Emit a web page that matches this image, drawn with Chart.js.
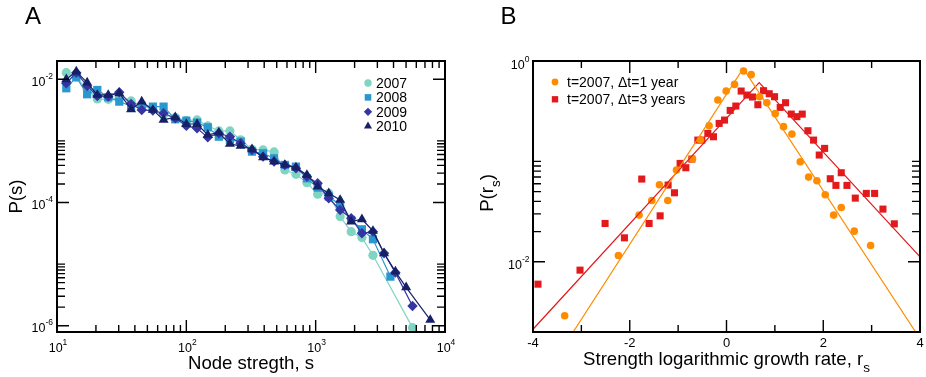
<!DOCTYPE html>
<html>
<head>
<meta charset="utf-8">
<title>Node strength distribution and growth rate</title>
<script src="https://cdn.jsdelivr.net/npm/chart.js@4.4.1/dist/chart.umd.min.js"></script>
<style>
  html, body { margin: 0; padding: 0; background: #fff; }
  #wrap { position: relative; width: 926px; height: 377px; overflow: hidden; }
  #wrap canvas { position: absolute; top: 0; }
</style>
</head>
<body>
<div id="wrap">
  <canvas id="panelA" width="463" height="377" style="left:0"></canvas>
  <canvas id="panelB" width="463" height="377" style="left:463px"></canvas>
</div>
<script>
// ---- panel A: strength distribution, one series per year ----
const strengthBins = [11.8, 14.1, 17.1, 20.5, 24.9, 30.3, 37.4, 45.2, 55.1, 66.7, 82.1, 100, 121, 146.5, 178.4,
  217.2, 262.8, 322, 392, 477, 578, 704, 856, 1036, 1262, 1546, 1882, 2278, 2773, 3378, 3782, 4136, 5006, 5607, 7691];
const p2007 = [0.0128, 0.0108, 0.00688, 0.00479, 0.00473, 0.00491, 0.00445, 0.00369, 0.00326, 0.00264, 0.00242,
  0.00213, 0.00219, 0.00175, 0.00145, 0.00145, 0.00104, 0.000731, 0.000712, 0.000661, 0.000337, 0.000287, 0.000210,
  0.000136, 0.000141, 0.0000590, 0.0000336, 0.0000269, 0.0000139, null, null, null, null, 0.00000093, null];
const p2008 = [0.00714, 0.0108, 0.00571, 0.00671, 0.00510, 0.00434, 0.00369, 0.00369, 0.00360, 0.00360, 0.00224,
  0.00213, 0.00198, 0.00166, 0.00117, 0.00104, 0.000973, 0.000669, 0.000629, 0.000522, 0.000407, 0.000382, 0.000247,
  0.000174, 0.000125, 0.0000912, 0.0000521, 0.0000367, 0.0000253, null, 0.00000626, null, null, null, null];
const p2009 = [0.00861, 0.0128, 0.00779, 0.00536, 0.00523, 0.00615, 0.00398, 0.00318, 0.00310, 0.00281, 0.00233,
  0.00175, 0.00160, 0.00114, 0.00133, 0.00117, 0.000914, 0.000712, 0.000555, 0.000461, 0.000407, 0.000359, 0.000263,
  0.000205, 0.000117, 0.0000756, 0.0000554, 0.0000316, 0.0000336, 0.0000150, null, 0.00000727, null, 0.00000209, null];
const p2010 = [0.0100, 0.0133, 0.00883, 0.00557, 0.00557, 0.00593, 0.00326, 0.00434, 0.00318, 0.00219, 0.00242,
  0.00188, 0.00188, 0.00125, 0.00136, 0.000892, 0.000827, 0.000731, 0.000542, 0.000461, 0.000407, 0.000368, 0.000280,
  0.000181, 0.000141, 0.000110, 0.0000489, 0.0000534, 0.0000345, 0.0000150, null, 0.00000754, 0.00000420, null, 0.00000124];
const years = ['2007', '2008', '2009', '2010'];

// ---- panel B: strength logarithmic growth rate ----
const rate1y = [-3.345, -2.234, -1.807, -1.545, -1.386, -1.214, -1.034, -0.703, -0.538, -0.359, -0.179, -0.007, 0.166,
  0.352, 0.510, 0.683, 0.834, 1.007, 1.179, 1.352, 1.524, 1.697, 1.869, 2.041, 2.214, 2.372, 2.641, 2.979];
const p1y = [0.0029, 0.01156, 0.0292, 0.0408, 0.0585, 0.0408, 0.082, 0.1055, 0.163, 0.2266, 0.409, 0.502, 0.585,
  0.795, 0.731, 0.441, 0.384, 0.299, 0.222, 0.187, 0.0993, 0.0698, 0.0642, 0.0465, 0.0292, 0.0348, 0.0202, 0.01455];
const rate3y = [-3.897, -3.028, -2.510, -2.110, -1.752, -1.600, -1.372, -1.207, -1.076, -0.959, -0.841, -0.717, -0.593,
  -0.510, -0.386, -0.269, -0.152, -0.041, 0.076, 0.193, 0.303, 0.421, 0.538, 0.648, 0.766, 0.883, 0.993, 1.110, 1.221,
  1.338, 1.455, 1.566, 1.683, 1.800, 1.917, 2.028, 2.145, 2.262, 2.372, 2.490, 2.662, 2.890, 3.062, 3.234, 3.469];
const p3y = [0.00599, 0.00826, 0.0241, 0.01734, 0.0667, 0.0241, 0.0287, 0.0581, 0.0487, 0.0955, 0.0865, 0.1055, 0.163,
  0.163, 0.190, 0.176, 0.239, 0.258, 0.322, 0.356, 0.502, 0.458, 0.438, 0.367, 0.506, 0.472, 0.441, 0.345, 0.384,
  0.296, 0.279, 0.296, 0.202, 0.163, 0.1157, 0.1348, 0.0672, 0.0577, 0.0771, 0.0577, 0.0431, 0.048, 0.048, 0.0335, 0.0239];
// fitted tent lines: left end, peak, right end
const fit1yX = [-3.17, 0.345, 3.91];
const fit1yP = [0.002, 0.845, 0.002];
const fit3yX = [-4, 0.676, 4];
const fit3yP = [0.00213, 0.608, 0.0112];
const growthLabels = ['t=2007, \u0394t=1 year', 't=2007, \u0394t=3 years'];

// ---- tick labels ----
const xTicksA = [10, 100, 1000, 10000];
const xExpA = ['1', '2', '3', '4'];
const yTicksA = [1e-2, 1e-4, 1e-6];
const yExpA = ['-2', '-4', '-6'];
const xTicksB = [-4, -2, 0, 2, 4];
const xLabelsB = ['-4', '-2', '0', '2', '4'];
const xMinorB = [-3, -1, 1, 3];
const yTicksB = [1, 1e-2];
const yExpB = ['0', '-2'];

const FONT = '"Liberation Sans", Arial, Helvetica, sans-serif';

const pts = (xs, ys) => xs.map((x, i) => ({x: x, y: ys[i]})).filter(p => p.y != null);

// draw a run of text pieces [text, size, dy] on one baseline
function drawSegs(ctx, segs, x, y, align) {
  let w = 0;
  const widths = segs.map(s => {
    ctx.font = s[1] + 'px ' + FONT;
    const m = ctx.measureText(s[0]).width;
    w += m;
    return m;
  });
  let cx = align === 'right' ? x - w : align === 'center' ? x - w / 2 : x;
  ctx.textAlign = 'left';
  ctx.textBaseline = 'alphabetic';
  segs.forEach((s, i) => {
    ctx.font = s[1] + 'px ' + FONT;
    ctx.fillText(s[0], cx, y + (s[2] || 0));
    cx += widths[i];
  });
}

function drawRotated(ctx, segs, x, y) {
  ctx.save();
  ctx.translate(x, y);
  ctx.rotate(-Math.PI / 2);
  drawSegs(ctx, segs, 0, 0, 'center');
  ctx.restore();
}

function marker(ctx, style, x, y, r) {
  ctx.beginPath();
  if (style === 'circle') ctx.arc(x, y, r, 0, Math.PI * 2);
  else if (style === 'rect') { const h = r * Math.SQRT1_2; ctx.rect(x - h, y - h, 2 * h, 2 * h); }
  else if (style === 'rectRot') { ctx.moveTo(x - r, y); ctx.lineTo(x, y - r); ctx.lineTo(x + r, y); ctx.lineTo(x, y + r); ctx.closePath(); }
  else { ctx.moveTo(x, y - r); ctx.lineTo(x + r * 0.866, y + r / 2); ctx.lineTo(x - r * 0.866, y + r / 2); ctx.closePath(); }
  ctx.fill();
}

// box + inward ticks on all four sides
function drawBox(chart, xMajor, xMinor, yMajor, yMinor) {
  const {ctx, chartArea: a} = chart;
  const sx = chart.scales.x, sy = chart.scales.y;
  ctx.save();
  ctx.strokeStyle = '#000';
  ctx.lineWidth = 1.4;
  ctx.beginPath();
  const xt = (v, len) => {
    const p = sx.getPixelForValue(v);
    if (p <= a.left + 1 || p >= a.right - 1) return;
    ctx.moveTo(p, a.bottom); ctx.lineTo(p, a.bottom - len);
    ctx.moveTo(p, a.top); ctx.lineTo(p, a.top + len);
  };
  const yt = (v, len) => {
    const p = sy.getPixelForValue(v);
    if (p <= a.top + 1 || p >= a.bottom - 1) return;
    ctx.moveTo(a.left, p); ctx.lineTo(a.left + len, p);
    ctx.moveTo(a.right, p); ctx.lineTo(a.right - len, p);
  };
  xMajor.forEach(v => xt(v, 12));
  xMinor.forEach(v => xt(v, 7));
  yMajor.forEach(v => yt(v, 12));
  yMinor.forEach(v => yt(v, 8));
  ctx.stroke();
  ctx.lineWidth = 2;
  ctx.strokeRect(a.left, a.top, a.right - a.left, a.bottom - a.top);
  ctx.restore();
}

// minor ticks: 2..10 times each major of the y axes, every decade on the log x axis
const minorOf = (majors) => majors.flatMap(v => [2, 3, 4, 5, 6, 7, 8, 9, 10].map(m => m * v));
const xMinorA = [10, 100, 1000].flatMap(v => [2, 3, 4, 5, 6, 7, 8, 9].map(m => m * v));

const yearStyles = [
  {color: '#80d4c2', style: 'circle', r: 4.6},
  {color: '#2a98cf', style: 'rect', r: 5.8},
  {color: '#3434a2', style: 'rectRot', r: 5.2},
  {color: '#152066', style: 'triangle', r: 5.8}
];
const yearSeries = [p2007, p2008, p2009, p2010];

const panelAPlugin = {
  id: 'panelA',
  afterDatasetsDraw(chart) {
    const {ctx, chartArea: a} = chart;
    const sx = chart.scales.x, sy = chart.scales.y;
    drawBox(chart, xTicksA, xMinorA, yTicksA, minorOf(yTicksA));
    ctx.save();
    ctx.fillStyle = '#000';
    xTicksA.forEach((v, i) => drawSegs(ctx, [['10', 12.5], [xExpA[i], 8.5, -7.5]], sx.getPixelForValue(v) + 1, a.bottom + 20, 'center'));
    yTicksA.forEach((v, i) => drawSegs(ctx, [['10', 12.5], [yExpA[i], 8.5, -7]], a.left - 4, sy.getPixelForValue(v) + 6.7, 'right'));
    drawSegs(ctx, [['Node stregth, s', 18.6]], (a.left + a.right) / 2, 369, 'center');
    drawRotated(ctx, [['P(s)', 18.6]], 21.5, (a.top + a.bottom) / 2);
    drawSegs(ctx, [['A', 24]], 25, 24, 'left');
    // legend
    years.forEach((label, i) => {
      const st = yearStyles[i];
      const yy = 83 + i * 14.4;
      ctx.fillStyle = st.color;
      marker(ctx, st.style, 368, yy, st.r * 0.8);
      ctx.fillStyle = '#000';
      drawSegs(ctx, [[label, 14]], 376, yy + 5, 'left');
    });
    ctx.restore();
  }
};

new Chart(document.getElementById('panelA'), {
  type: 'line',
  data: {
    datasets: yearSeries.map((ser, i) => ({
      label: years[i],
      data: pts(strengthBins, ser),
      borderColor: yearStyles[i].color,
      backgroundColor: yearStyles[i].color,
      borderWidth: 1.2,
      pointStyle: yearStyles[i].style,
      pointRadius: yearStyles[i].r,
      pointBorderWidth: 0,
      tension: 0,
      order: 3 - i
    }))
  },
  options: {
    responsive: false,
    devicePixelRatio: 1,
    animation: false,
    events: [],
    layout: {padding: {left: 57, right: 18, top: 61, bottom: 45}},
    scales: {
      x: {type: 'logarithmic', min: 10, max: 10000, display: false},
      y: {type: 'logarithmic', min: 7.9e-7, max: 0.0198, display: false}
    },
    plugins: {legend: {display: false}, tooltip: {enabled: false}}
  },
  plugins: [panelAPlugin]
});

const growthStyles = [
  {color: '#ff8c00', style: 'circle', r: 3.8},
  {color: '#e31a1c', style: 'rect', r: 5}
];

const panelBPlugin = {
  id: 'panelB',
  afterDatasetsDraw(chart) {
    const {ctx, chartArea: a} = chart;
    const sx = chart.scales.x, sy = chart.scales.y;
    drawBox(chart, xTicksB, xMinorB, yTicksB, minorOf([1e-2]));
    ctx.save();
    ctx.fillStyle = '#000';
    xTicksB.forEach((v, i) => drawSegs(ctx, [[xLabelsB[i], 13]], sx.getPixelForValue(v), a.bottom + 14.7, 'center'));
    yTicksB.forEach((v, i) => drawSegs(ctx, [['10', 12.5], [yExpB[i], 8.5, -7]], a.left - 3.5, sy.getPixelForValue(v) + 7.5, 'right'));
    drawSegs(ctx, [['Strength logarithmic growth rate, r', 18.6], ['s', 13.5, 6.7]], (a.left + a.right) / 2, 365, 'center');
    drawRotated(ctx, [['P(r', 18.6], ['s', 13.5, 6.7], [')', 18.6]], 30, 193);
    drawSegs(ctx, [['B', 24]], 37.5, 24, 'left');
    growthLabels.forEach((label, i) => {
      const st = growthStyles[i];
      const yy = 82 + i * 17.3;
      ctx.fillStyle = st.color;
      marker(ctx, st.style, 92, yy, st.r * 0.9);
      ctx.fillStyle = '#000';
      drawSegs(ctx, [[label, 14]], 104, yy + 5, 'left');
    });
    ctx.restore();
  }
};

new Chart(document.getElementById('panelB'), {
  type: 'line',
  data: {
    datasets: [
      {label: 'fit 1y', data: pts(fit1yX, fit1yP), borderColor: growthStyles[0].color, borderWidth: 1.2,
        pointRadius: 0, tension: 0, order: 0},
      {label: 'fit 3y', data: pts(fit3yX, fit3yP), borderColor: growthStyles[1].color, borderWidth: 1.2,
        pointRadius: 0, tension: 0, order: 1},
      {label: growthLabels[0], data: pts(rate1y, p1y), showLine: false, backgroundColor: growthStyles[0].color,
        pointStyle: 'circle', pointRadius: growthStyles[0].r, pointBorderWidth: 0, order: 2},
      {label: growthLabels[1], data: pts(rate3y, p3y), showLine: false, backgroundColor: growthStyles[1].color,
        pointStyle: 'rect', pointRadius: growthStyles[1].r, pointBorderWidth: 0, order: 3}
    ]
  },
  options: {
    responsive: false,
    devicePixelRatio: 1,
    animation: false,
    events: [],
    layout: {padding: {left: 70, right: 6, top: 61, bottom: 45}},
    scales: {
      x: {type: 'linear', min: -4, max: 4, display: false},
      y: {type: 'logarithmic', min: 0.002, max: 1, display: false}
    },
    plugins: {legend: {display: false}, tooltip: {enabled: false}}
  },
  plugins: [panelBPlugin]
});
</script>
</body>
</html>
